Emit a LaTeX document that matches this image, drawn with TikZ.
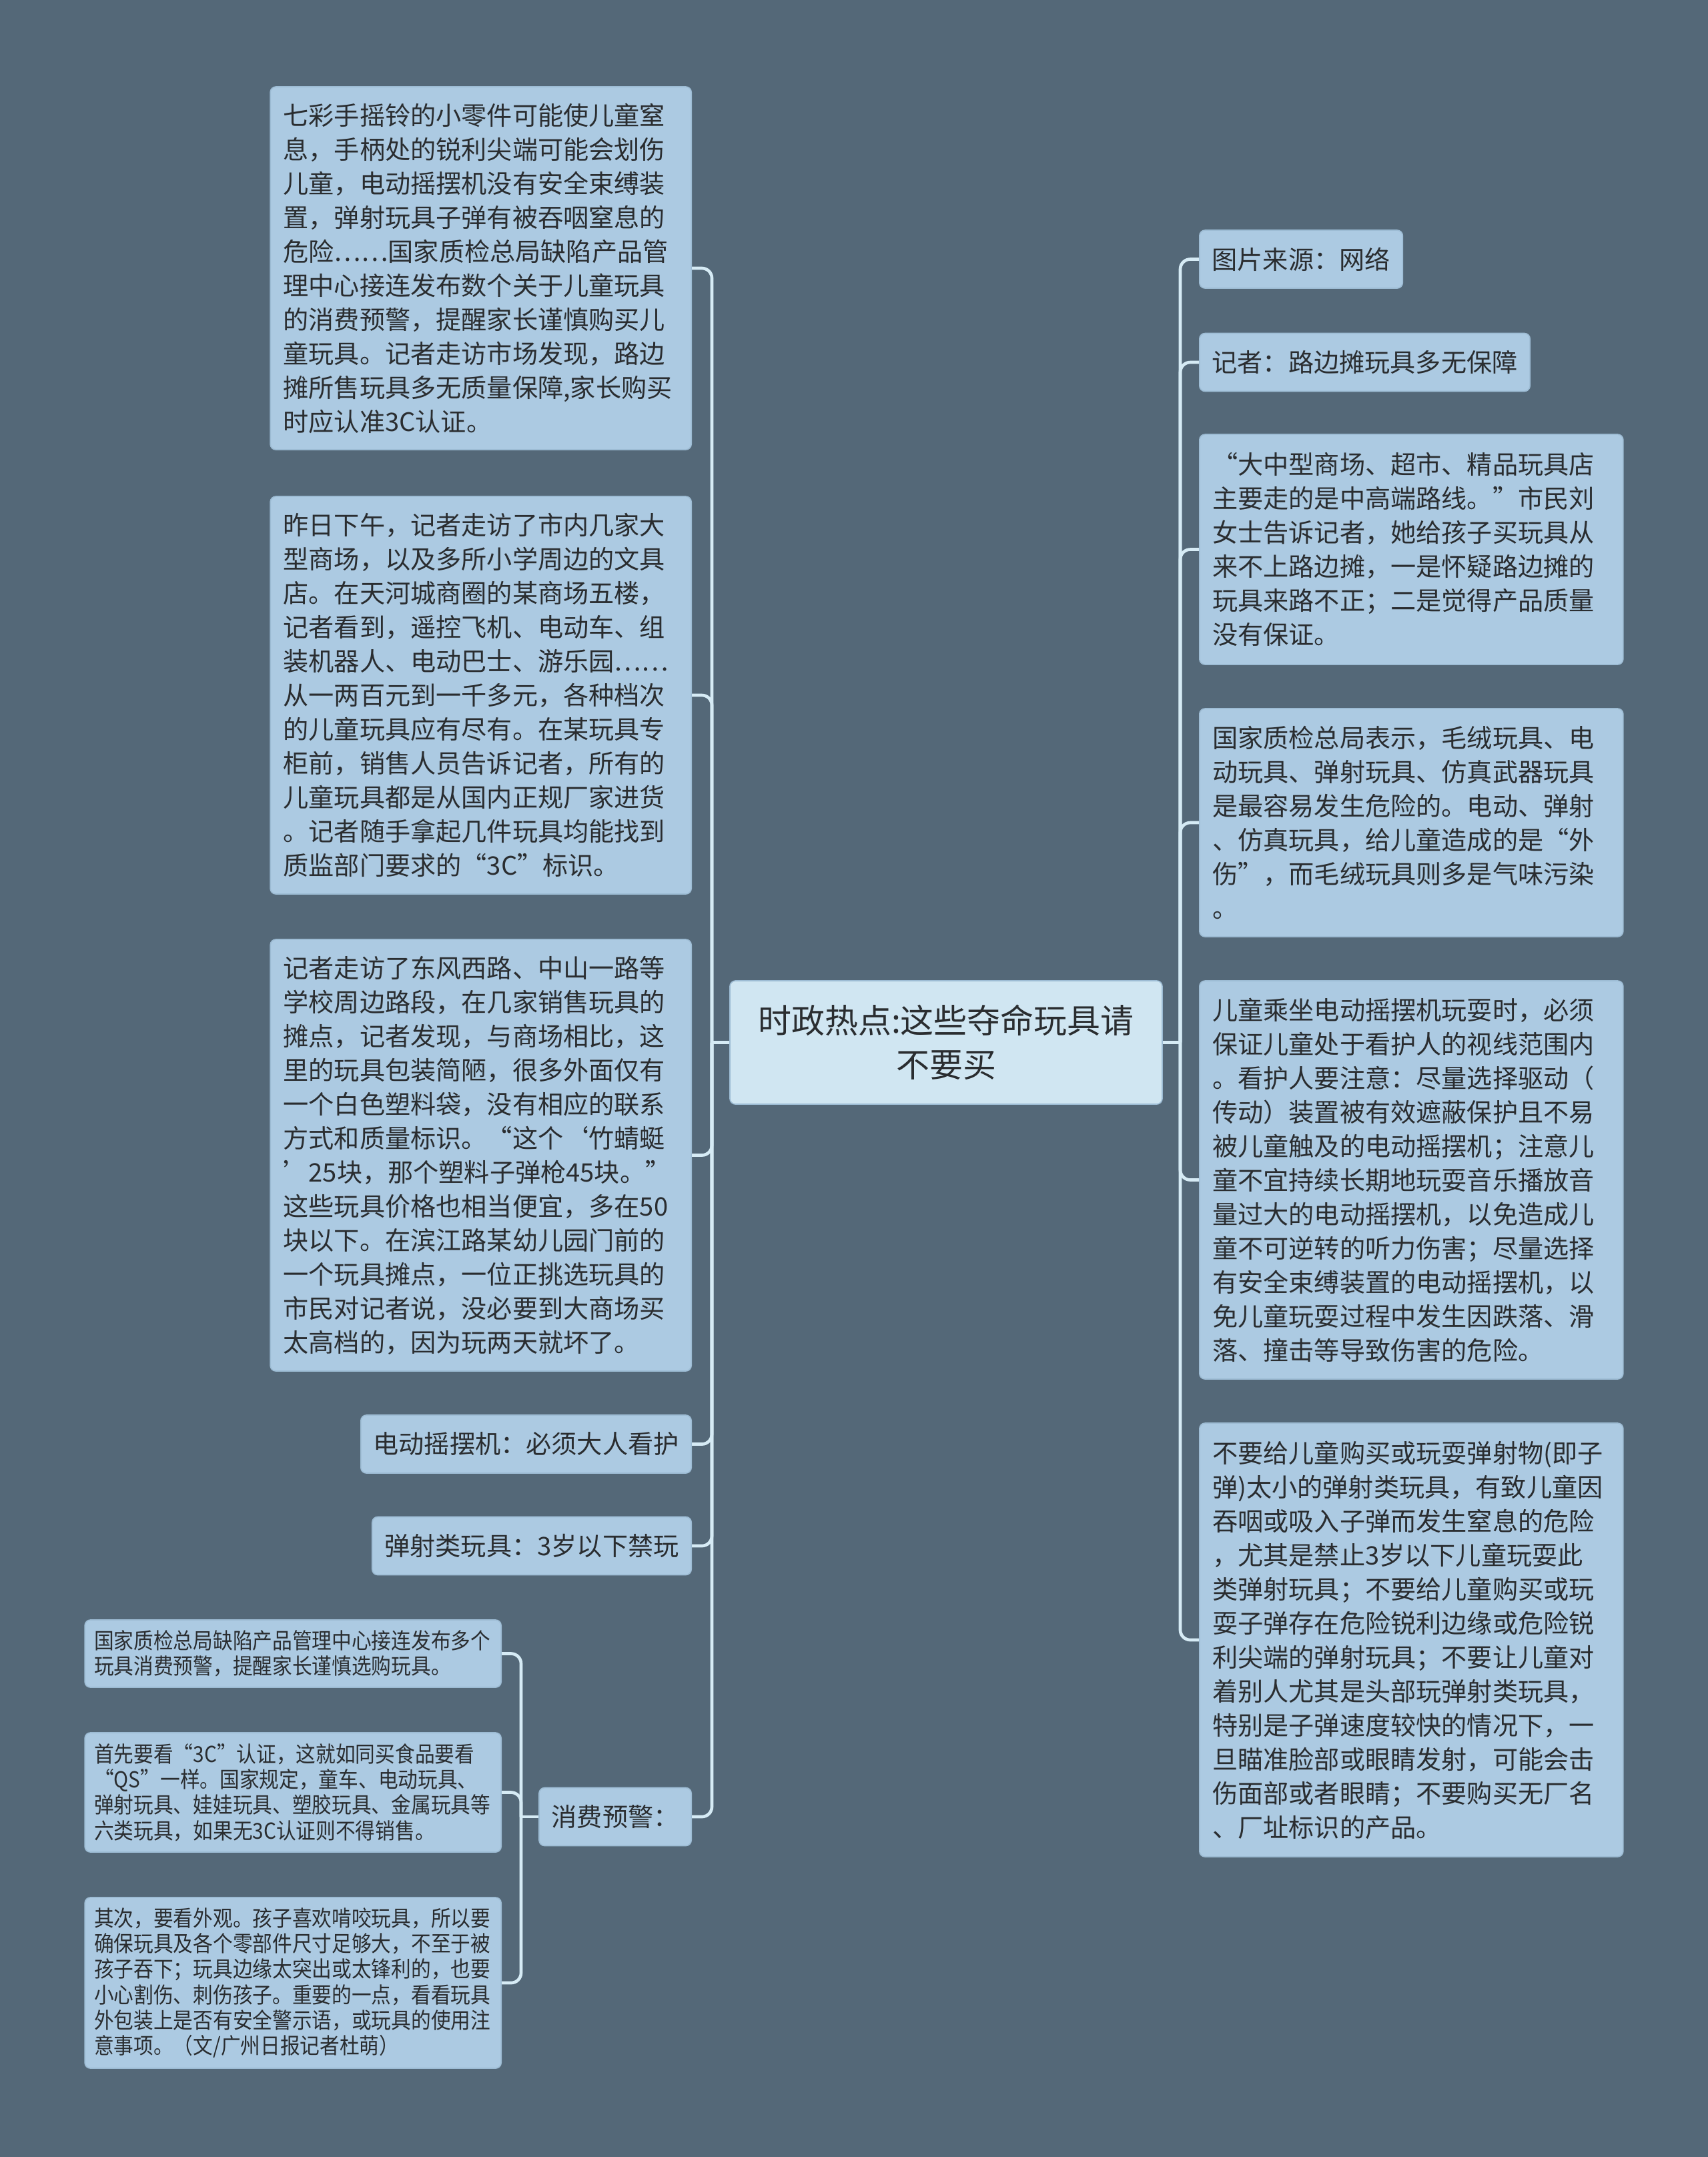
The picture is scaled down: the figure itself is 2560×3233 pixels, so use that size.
\documentclass[tikz,border=0pt]{standalone}
\usepackage{fontspec}
\setmainfont{Noto Sans CJK SC}
\newfontfamily\narrowcjk[FakeStretch=0.9]{Noto Sans CJK SC}
\definecolor{bgc}{HTML}{546878}
\definecolor{boxc}{HTML}{ACCAE2}
\definecolor{boxedge}{HTML}{9DBCD4}
\definecolor{cenc}{HTML}{D0E6F2}
\definecolor{connc}{HTML}{D6EBF5}
\definecolor{txt}{HTML}{2A2D30}
\tikzset{
  box/.style={fill=boxc, draw=boxedge, line width=0.5pt, rounded corners=2.5pt,
    inner xsep=5.8pt, inner ysep=0pt, align=left, text=txt,
    font=\fontsize{11.45pt}{15.3pt}\selectfont},
  onebox/.style={box, minimum height=26.1pt, inner xsep=5.6pt},
  smallbox/.style={box, inner xsep=4.2pt, text width=178.8pt,
    font=\narrowcjk\fontsize{9.9pt}{11.5pt}\selectfont},
  cenbox/.style={fill=cenc, draw=boxedge, line width=0.5pt, rounded corners=2.5pt,
    align=center, text=txt, minimum width=194.4pt, minimum height=55.5pt,
    font=\fontsize{15pt}{19.8pt}\selectfont},
  conn/.style={draw=connc, line width=1.4pt, rounded corners=4.5pt},
  bar/.style={draw=connc, line width=1.4pt},
}
\begin{document}
\begin{tikzpicture}[x=0.3pt,y=-0.3pt]
\fill[bgc] (0,0) rectangle (2560,3233);
\useasboundingbox (0,0) rectangle (2560,3233);

% central node
\node[cenbox] (c) at (1418,1562.5) {时政热点:这些夺命玩具请\\不要买};

% left side
\node[box, anchor=east, text width=177.7pt, minimum height=163.2pt] (L1) at (1037,402) {七彩手摇铃的小零件可能使儿童窒\\
息，手柄处的锐利尖端可能会划伤\\
儿童，电动摇摆机没有安全束缚装\\
置，弹射玩具子弹有被吞咽窒息的\\
危险……国家质检总局缺陷产品管\\
理中心接连发布数个关于儿童玩具\\
的消费预警，提醒家长谨慎购买儿\\
童玩具。记者走访市场发现，路边\\
摊所售玩具多无质量保障,家长购买\\
时应认准3C认证。};

\node[box, anchor=east, text width=177.7pt, minimum height=178.8pt] (L2) at (1037,1042) {昨日下午，记者走访了市内几家大\\
型商场，以及多所小学周边的文具\\
店。在天河城商圈的某商场五楼，\\
记者看到，遥控飞机、电动车、组\\
装机器人、电动巴士、游乐园……\\
从一两百元到一千多元，各种档次\\
的儿童玩具应有尽有。在某玩具专\\
柜前，销售人员告诉记者，所有的\\
儿童玩具都是从国内正规厂家进货\\
。记者随手拿起几件玩具均能找到\\
质监部门要求的“3C”标识。};

\node[box, anchor=east, text width=177.7pt, minimum height=194.1pt] (L3) at (1037,1731.5) {记者走访了东风西路、中山一路等\\
学校周边路段，在几家销售玩具的\\
摊点，记者发现，与商场相比，这\\
里的玩具包装简陋，很多外面仅有\\
一个白色塑料袋，没有相应的联系\\
方式和质量标识。“这个‘竹蜻蜓\\
’25块，那个塑料子弹枪45块。”\\
这些玩具价格也相当便宜，多在50\\
块以下。在滨江路某幼儿园门前的\\
一个玩具摊点，一位正挑选玩具的\\
市民对记者说，没必要到大商场买\\
太高档的，因为玩两天就坏了。};

\node[onebox, anchor=east] (L4) at (1037,2164.5) {电动摇摆机：必须大人看护};
\node[onebox, anchor=east] (L5) at (1037,2317) {弹射类玩具：3岁以下禁玩};
\node[onebox, anchor=east] (L6) at (1037,2723) {消费预警：};

% sub nodes of L6
\node[smallbox, anchor=east, minimum height=30.3pt] (S1) at (752,2478.5) {国家质检总局缺陷产品管理中心接连发布多个\\
玩具消费预警，提醒家长谨慎选购玩具。};
\node[smallbox, anchor=east, minimum height=53.7pt] (S2) at (752,2686.5) {首先要看“3C”认证，这就如同买食品要看\\
“QS”一样。国家规定，童车、电动玩具、\\
弹射玩具、娃娃玩具、塑胶玩具、金属玩具等\\
六类玩具，如果无3C认证则不得销售。};
\node[smallbox, anchor=east, minimum height=76.8pt] (S3) at (752,2972) {其次，要看外观。孩子喜欢啃咬玩具，所以要\\
确保玩具及各个零部件尺寸足够大，不至于被\\
孩子吞下；玩具边缘太突出或太锋利的，也要\\
小心割伤、刺伤孩子。重要的一点，看看玩具\\
外包装上是否有安全警示语，或玩具的使用注\\
意事项。（文/广州日报记者杜萌）};

% right side
\node[onebox, anchor=west] (R1) at (1797,388.5) {图片来源：网络};
\node[onebox, anchor=west] (R2) at (1797,543) {记者：路边摊玩具多无保障};
\node[box, anchor=west, text width=178.9pt, minimum height=103.5pt] (R3) at (1797,823.5) {“大中型商场、超市、精品玩具店\\
主要走的是中高端路线。”市民刘\\
女士告诉记者，她给孩子买玩具从\\
来不上路边摊，一是怀疑路边摊的\\
玩具来路不正；二是觉得产品质量\\
没有保证。};
\node[box, anchor=west, text width=178.9pt, minimum height=102.6pt] (R4) at (1797,1233) {国家质检总局表示，毛绒玩具、电\\
动玩具、弹射玩具、仿真武器玩具\\
是最容易发生危险的。电动、弹射\\
、仿真玩具，给儿童造成的是“外\\
伤”，而毛绒玩具则多是气味污染\\
。};
\node[box, anchor=west, text width=178.9pt, minimum height=179.1pt] (R5) at (1797,1768.5) {儿童乘坐电动摇摆机玩耍时，必须\\
保证儿童处于看护人的视线范围内\\
。看护人要注意：尽量选择驱动（\\
传动）装置被有效遮蔽保护且不易\\
被儿童触及的电动摇摆机；注意儿\\
童不宜持续长期地玩耍音乐播放音\\
量过大的电动摇摆机，以免造成儿\\
童不可逆转的听力伤害；尽量选择\\
有安全束缚装置的电动摇摆机，以\\
免儿童玩耍过程中发生因跌落、滑\\
落、撞击等导致伤害的危险。};
\node[box, anchor=west, text width=178.9pt, minimum height=195pt] (R6) at (1797,2458) {不要给儿童购买或玩耍弹射物(即子\\
弹)太小的弹射类玩具，有致儿童因\\
吞咽或吸入子弹而发生窒息的危险\\
，尤其是禁止3岁以下儿童玩耍此\\
类弹射玩具；不要给儿童购买或玩\\
耍子弹存在危险锐利边缘或危险锐\\
利尖端的弹射玩具；不要让儿童对\\
着别人尤其是头部玩弹射类玩具，\\
特别是子弹速度较快的情况下，一\\
旦瞄准脸部或眼睛发射，可能会击\\
伤面部或者眼睛；不要购买无厂名\\
、厂址标识的产品。};

% connectors
\coordinate (ls) at (1067,1562.5);
\coordinate (rs) at (1769,1562.5);
\coordinate (ss) at (781,2723);
\draw[bar] (c.west) -- (ls);
\draw[bar] (c.east) -- (rs);
\draw[bar] (L6.west) -- (ss);
\foreach \n in {L1,L2,L3,L4,L5,L6} \draw[conn] (ls) |- (\n.east);
\foreach \n in {R1,R2,R3,R4,R5,R6} \draw[conn] (rs) |- (\n.west);
\foreach \n in {S1,S2,S3} \draw[conn] (ss) |- (\n.east);
\end{tikzpicture}
\end{document}
